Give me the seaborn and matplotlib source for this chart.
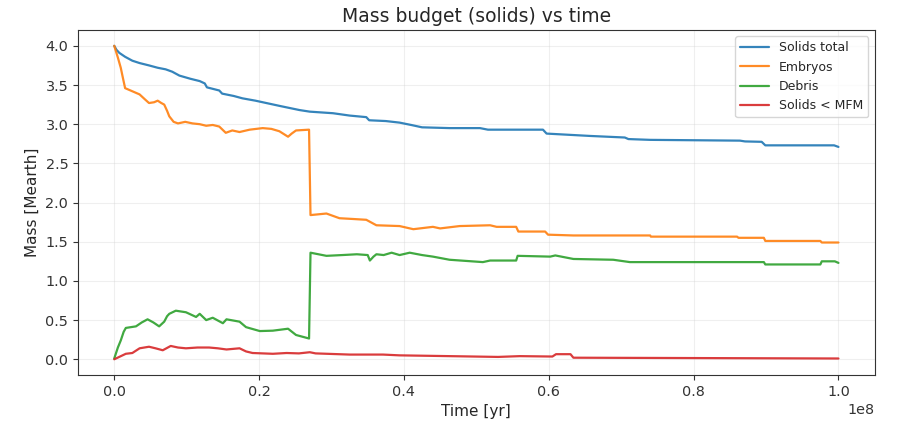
import matplotlib
matplotlib.use("Agg")
import matplotlib.pyplot as plt
import seaborn as sns
import numpy as np
import pandas as pd

# ---- data (time in Myr, mass in Earth masses) ----
t_total = [0, 0.3, 0.7, 1.5, 2.5, 3.5, 4.8, 6.0, 7.1, 8.0, 9.0, 10.5, 11.8, 12.5, 12.8,
           14.5, 14.9, 16.5, 17.7, 19.5, 21.0, 23.0, 25.6, 27.0, 30.2, 32.5, 34.8, 35.2,
           37.5, 39.4, 41.0, 42.5, 46.3, 50.5, 51.6, 59.2, 59.7, 65.7, 70.5, 71.0, 74.0,
           86.4, 87.1, 89.4, 89.9, 99.4, 100]
m_total = [4.00, 3.95, 3.91, 3.86, 3.81, 3.78, 3.75, 3.72, 3.70, 3.67, 3.62, 3.58, 3.55,
           3.52, 3.47, 3.43, 3.39, 3.36, 3.33, 3.30, 3.27, 3.23, 3.18, 3.16, 3.14, 3.11,
           3.09, 3.05, 3.04, 3.02, 2.99, 2.96, 2.95, 2.95, 2.93, 2.93, 2.88, 2.85, 2.83,
           2.81, 2.80, 2.79, 2.78, 2.775, 2.73, 2.73, 2.71]

t_emb = [0, 0.5, 0.9, 1.15, 1.5, 2.0, 2.5, 3.0, 3.5, 4.2, 4.8, 5.5, 6.0, 6.5, 6.9, 7.3,
         7.6, 8.2, 8.8, 9.8, 10.8, 11.8, 12.7, 13.6, 14.5, 15.4, 16.3, 17.3, 18.7, 20.5,
         21.7, 22.8, 24.0, 24.5, 25.1, 26.9, 27.1, 29.3, 31.1, 33.0, 34.8, 36.2, 39.4,
         41.3, 44.0, 45.0, 47.7, 51.9, 52.8, 55.5, 55.8, 59.5, 59.9, 63.4, 74.0, 74.1,
         86.0, 86.2, 89.7, 89.9, 97.5, 97.7, 100]
m_emb = [4.00, 3.85, 3.72, 3.61, 3.46, 3.44, 3.42, 3.40, 3.38, 3.32, 3.27, 3.28, 3.30,
         3.27, 3.25, 3.17, 3.10, 3.03, 3.01, 3.03, 3.01, 3.00, 2.98, 2.99, 2.97, 2.89,
         2.92, 2.90, 2.93, 2.95, 2.94, 2.91, 2.84, 2.88, 2.92, 2.93, 1.84, 1.86, 1.80,
         1.79, 1.78, 1.71, 1.70, 1.66, 1.69, 1.67, 1.70, 1.71, 1.69, 1.69, 1.63, 1.63,
         1.59, 1.58, 1.58, 1.565, 1.565, 1.55, 1.55, 1.51, 1.51, 1.49, 1.49]

t_deb = [0, 0.5, 0.9, 1.3, 1.6, 2.3, 3.0, 3.8, 4.6, 5.4, 6.2, 6.9, 7.3, 7.6, 8.5, 9.9,
         11.3, 11.8, 12.7, 13.6, 15.0, 15.5, 17.3, 18.2, 20.1, 21.9, 24.0, 25.1, 26.9,
         27.1, 29.3, 31.5, 33.5, 35.0, 35.3, 35.8, 36.2, 37.2, 38.3, 39.4, 40.8, 42.5,
         44.0, 46.3, 50.9, 51.9, 55.5, 55.7, 60.2, 60.9, 63.4, 68.9, 71.2, 89.7, 89.9,
         97.5, 97.7, 99.5, 100]
m_deb = [0.01, 0.15, 0.24, 0.35, 0.40, 0.41, 0.42, 0.47, 0.51, 0.47, 0.42, 0.48, 0.55,
         0.58, 0.62, 0.60, 0.54, 0.58, 0.50, 0.53, 0.46, 0.51, 0.48, 0.41, 0.36, 0.365,
         0.39, 0.31, 0.265, 1.36, 1.32, 1.33, 1.34, 1.33, 1.26, 1.31, 1.34, 1.33, 1.36,
         1.33, 1.36, 1.33, 1.31, 1.27, 1.24, 1.26, 1.26, 1.32, 1.31, 1.325, 1.28, 1.27,
         1.24, 1.24, 1.21, 1.21, 1.25, 1.25, 1.23]

t_mfm = [0, 1.6, 2.5, 3.5, 4.8, 5.7, 6.7, 7.8, 8.8, 9.9, 11.5, 13.1, 14.3, 15.5, 17.3,
         18.2, 19.1, 21.9, 23.8, 25.5, 27.0, 27.8, 32.5, 37.1, 39.4, 46.3, 53.0, 56.0,
         60.5, 61.0, 63.0, 63.4, 82.0, 100]
m_mfm = [0.0, 0.07, 0.08, 0.14, 0.16, 0.14, 0.115, 0.17, 0.15, 0.14, 0.15, 0.15, 0.14,
         0.125, 0.14, 0.10, 0.08, 0.07, 0.08, 0.075, 0.09, 0.075, 0.06, 0.06, 0.05, 0.04,
         0.03, 0.04, 0.035, 0.065, 0.065, 0.02, 0.015, 0.01]

labels = ["Solids total", "Embryos", "Debris", "Solids < MFM"]
series = [(t_total, m_total), (t_emb, m_emb), (t_deb, m_deb), (t_mfm, m_mfm)]
colors = ["#1f77b4", "#ff7f0e", "#2ca02c", "#d62728"]

sns.set_style("ticks")
plt.rcParams["font.family"] = ["DejaVu Sans"]

fig = plt.figure(figsize=(8.98, 4.37), dpi=100)
ax = fig.add_axes([0.0869, 0.142, 0.974 - 0.0869, 0.931 - 0.142])

for (t, m), lab, c in zip(series, labels, colors):
    df = pd.DataFrame({"t": np.array(t) * 1e6, "m": m})
    sns.lineplot(data=df, x="t", y="m", ax=ax, color=c, label=lab, linewidth=1.6,
                 sort=False, estimator=None, alpha=0.9)

ax.set_xlim(-5e6, 105e6)
ax.set_ylim(-0.2, 4.2)
ax.set_yticks(np.arange(0, 4.01, 0.5))
ax.set_xticks(np.arange(0, 1.01e8, 0.2e8))
ax.grid(True, alpha=0.3)
for s in ax.spines.values():
    s.set_color("#333333")
ax.tick_params(colors="#333333", labelsize=10.4)
ax.xaxis.get_offset_text().set_fontsize(10.4)
ax.set_xlabel("Time [yr]", fontsize=11)
ax.set_ylabel("Mass [Mearth]", fontsize=11)
ax.set_title("Mass budget (solids) vs time", fontsize=13.5)
ax.legend(loc="upper right", fontsize=9, handlelength=2.3, framealpha=0.8)

fig.savefig("out.png", dpi=100)
